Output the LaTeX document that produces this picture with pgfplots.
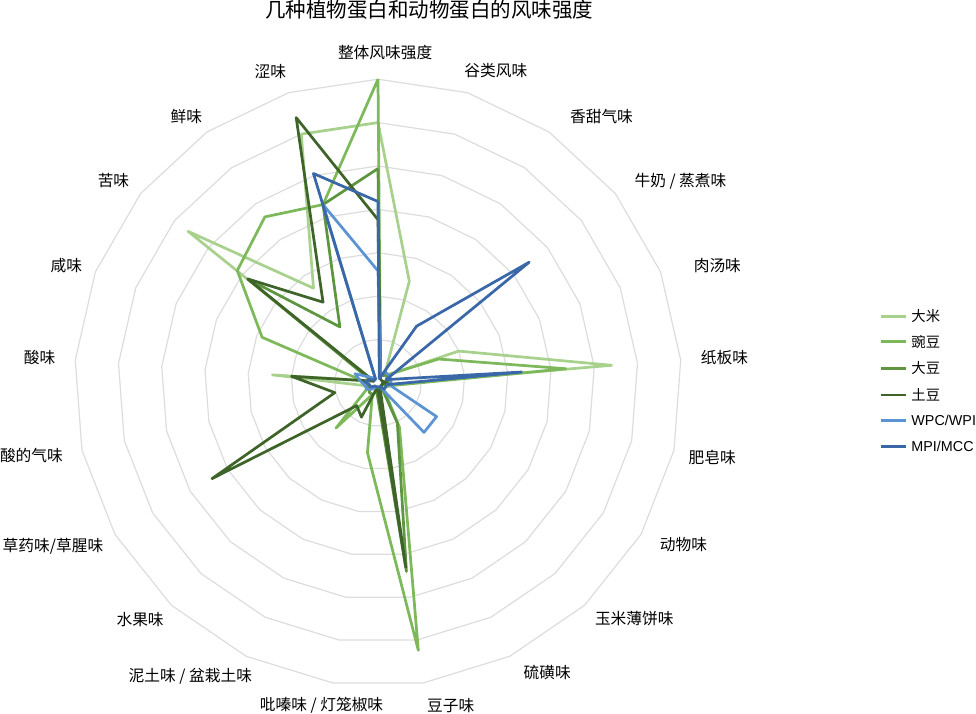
\documentclass[border=0pt]{standalone}
\usepackage{pgfplots}
\pgfplotsset{compat=1.18}
\usepackage{pgfplotstable}
\usepackage{fontspec}
\setmainfont{Liberation Sans}
\newfontfamily\cjk{Noto Sans CJK SC}
\definecolor{cDami}{HTML}{A9D18E}
\definecolor{cWandou}{HTML}{7DB95A}
\definecolor{cDadou}{HTML}{5E9540}
\definecolor{cTudou}{HTML}{3F6429}
\definecolor{cWPC}{HTML}{5B93D3}
\definecolor{cMPI}{HTML}{3A67A8}
\definecolor{gridcol}{HTML}{DDDDDD}

% i = category index (0 = top, clockwise); row 21 closes the polygon
\pgfplotstableread{
i  dami  wandou dadou tudou wpc  mpi
0  6.00  7.00   4.94  3.76  2.58 4.18
1  2.45  0.20   0.20  0.20  0.20 0.10
2  0.30  0.20   0.20  0.10  0.30 1.58
3  0.30  0.30   0.30  0.10  0.30 4.46
4  2.00  1.50   0.20  0.10  0.30 0.20
5  5.40  4.34   0.30  0.20  0.30 3.32
6  0.20  0.30   0.20  0.10  0.30 0.20
7  0.10  0.20   0.10  0.10  1.56 0.20
8  0.10  0.20   0.10  0.10  1.56 0.20
9  0.10  1.14   1.03  0.10  0.10 0.10
10 0.20  6.24   4.40  4.30  0.10 0.10
11 0.10  1.63   0.20  0.10  0.10 0.10
12 0.10  0.30   0.30  0.88  0.10 0.10
13 0.10  1.42   0.30  0.72  0.20 0.10
14 0.20  0.30   0.20  4.42  0.30 0.20
15 0.30  0.30   0.30  1.02  0.30 0.20
16 2.44  0.30   0.30  2.00  0.40 0.30
17 0.10  2.87   0.20  0.10  0.57 0.20
18 5.60  4.15   3.84  3.84  0.20 0.10
19 2.64  4.63   1.56  2.25  0.10 0.10
20 6.00  4.30   4.30  6.40  4.30 5.05
21 6.00  7.00   4.94  3.76  2.58 4.18
}\flavor

\newcommand{\radar}[2]{%
  \addplot[color=#2, line width=2pt, line join=round, no markers]
    table[x expr={\thisrow{#1}*cos(90-\thisrow{i}*360/21)},
          y expr={\thisrow{#1}*sin(90-\thisrow{i}*360/21)}] {\flavor};}
\newcommand{\legitem}[3]{%
  \draw[#2, line width=2pt] (axis cs:{(871-380)/42.3},{(382-#1)/42.3}) -- (axis cs:{(895-380)/42.3},{(382-#1)/42.3});
  \node[anchor=west, inner sep=0pt, font=\fontsize{10.5}{13}\selectfont] at (axis cs:{(900-380)/42.3},{(382-#1)/42.3}) {#3};}

\begin{document}
\begin{tikzpicture}
\begin{axis}[
  scale only axis, width=732pt, height=530.25pt,
  xmin=-8.983, xmax=14.090, ymin=-7.683, ymax=9.031,
  hide axis, clip=false,
]
% polygon grid rings
\pgfplotsinvokeforeach{1,...,7}{
  \draw[gridcol, line width=0.9pt, line join=round] (axis cs:0,#1)
    \foreach \k in {1,...,20} { -- (axis cs:{#1*cos(90-\k*360/21)},{#1*sin(90-\k*360/21)}) } -- cycle;
}
\radar{dami}{cDami}
\radar{wandou}{cWandou}
\radar{dadou}{cDadou}
\radar{tudou}{cTudou}
\radar{wpc}{cWPC}
\radar{mpi}{cMPI}
% category labels
\begin{scope}[every node/.style={font=\cjk\fontsize{11.5}{14}\selectfont, anchor=center, inner sep=0pt}]
\node at (axis cs:{(387-380)/42.3},{(382-60)/42.3}) {整体风味强度};
\node at (axis cs:{(495-380)/42.3},{(382-77)/42.3}) {谷类风味};
\node at (axis cs:{(598-380)/42.3},{(382-122)/42.3}) {香甜气味};
\node at (axis cs:{(675-380)/42.3},{(382-185)/42.3}) {牛奶 / 蒸煮味};
\node at (axis cs:{(711-380)/42.3},{(382-268)/42.3}) {肉汤味};
\node at (axis cs:{(718-380)/42.3},{(382-357)/42.3}) {纸板味};
\node at (axis cs:{(706-380)/42.3},{(382-455)/42.3}) {肥皂味};
\node at (axis cs:{(678-380)/42.3},{(382-540)/42.3}) {动物味};
\node at (axis cs:{(630-380)/42.3},{(382-612)/42.3}) {玉米薄饼味};
\node at (axis cs:{(545-380)/42.3},{(382-665)/42.3}) {硫磺味};
\node at (axis cs:{(451-380)/42.3},{(382-697)/42.3}) {豆子味};
\node at (axis cs:{(325-380)/42.3},{(382-697)/42.3}) {吡嗪味 / 灯笼椒味};
\node at (axis cs:{(197-380)/42.3},{(382-668)/42.3}) {泥土味 / 盆栽土味};
\node at (axis cs:{(148-380)/42.3},{(382-613)/42.3}) {水果味};
\node at (axis cs:{(63-380)/42.3},{(382-541)/42.3}) {草药味/草腥味};
\node at (axis cs:{(42-380)/42.3},{(382-453)/42.3}) {酸的气味};
\node at (axis cs:{(50-380)/42.3},{(382-357)/42.3}) {酸味};
\node at (axis cs:{(76-380)/42.3},{(382-268)/42.3}) {咸味};
\node at (axis cs:{(122-380)/42.3},{(382-185)/42.3}) {苦味};
\node at (axis cs:{(193-380)/42.3},{(382-122)/42.3}) {鲜味};
\node at (axis cs:{(275-380)/42.3},{(382-78)/42.3}) {涩味};
\end{scope}
% title
\node[font=\cjk\fontsize{15}{18}\selectfont, anchor=center, inner sep=0pt] at (axis cs:{(430-380)/42.3},{(382-18)/42.3}) {几种植物蛋白和动物蛋白的风味强度};
% legend
\legitem{317}{cDami}{\cjk 大米}
\legitem{342}{cWandou}{\cjk 豌豆}
\legitem{368}{cDadou}{\cjk 大豆}
\legitem{394}{cTudou}{\cjk 土豆}
\legitem{419}{cWPC}{WPC/WPI}
\legitem{444}{cMPI}{MPI/MCC}
\end{axis}
\end{tikzpicture}
\end{document}
